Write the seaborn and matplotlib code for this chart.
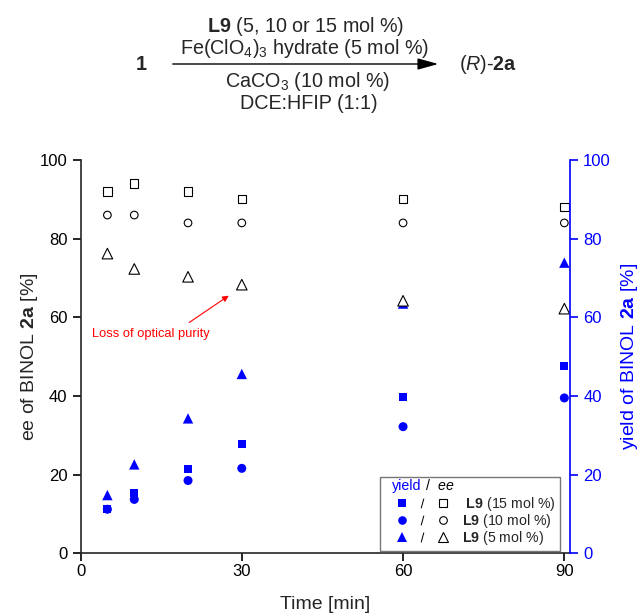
import matplotlib

matplotlib.use("Agg")

import matplotlib.pyplot as plt
import pandas as pd
import seaborn as sns
from matplotlib.legend_handler import HandlerTuple
from matplotlib.lines import Line2D
from matplotlib.patches import FancyArrowPatch

BLUE = "#0000ff"

# data
time_min = [5, 10, 20, 30, 60, 90]
loadings = ["15 mol %", "10 mol %", "5 mol %"]

ee_15 = [92, 94, 92, 90, 90, 88]
ee_10 = [86, 86, 84, 84, 84, 84]
ee_5 = [76.2, 72.3, 70.3, 68.3, 64.2, 62.2]

yield_15 = [11.2, 15.3, 21.4, 27.9, 39.7, 47.7]
yield_10 = [11.2, 13.7, 18.5, 21.6, 32.2, 39.5]
yield_5 = [14.8, 22.6, 34.3, 45.6, 63.5, 73.9]

x_ticks = [0, 30, 60, 90]
y_ticks = [0, 20, 40, 60, 80, 100]

marker_map = {"15 mol %": "s", "10 mol %": "o", "5 mol %": "^"}
open_sizes = {"15 mol %": 36, "10 mol %": 30, "5 mol %": 58}
filled_sizes = {"15 mol %": 34, "10 mol %": 42, "5 mol %": 56}


def long_frame(series: list[list[float]], value_name: str) -> pd.DataFrame:
    rows = []
    for load, values in zip(loadings, series):
        for t, v in zip(time_min, values):
            rows.append({"time": t, value_name: v, "loading": load})
    return pd.DataFrame(rows)


ee_df = long_frame([ee_15, ee_10, ee_5], "ee")
yield_df = long_frame([yield_15, yield_10, yield_5], "yield")

sns.set_theme(style="ticks")
plt.rcParams["font.family"] = ["Liberation Sans", "DejaVu Sans"]
plt.rcParams["mathtext.fontset"] = "custom"
plt.rcParams["mathtext.rm"] = "Liberation Sans"
plt.rcParams["mathtext.it"] = "Liberation Sans:italic"
plt.rcParams["mathtext.bf"] = "Liberation Sans:bold"

fig = plt.figure(figsize=(6.39, 6.13), dpi=100)
ax = fig.add_axes([0.126, 0.0974, 0.766, 0.6416])
ax2 = ax.twinx()

sns.scatterplot(
    data=yield_df, x="time", y="yield", style="loading", markers=marker_map,
    size="loading", sizes=filled_sizes, color=BLUE, edgecolor="none",
    legend=False, ax=ax, zorder=3,
)
sns.scatterplot(
    data=ee_df, x="time", y="ee", style="loading", markers=marker_map,
    size="loading", sizes=open_sizes, color="white", edgecolor="black", linewidth=0.8,
    legend=False, ax=ax, zorder=4,
)

ax.set_xlim(0, 91.05)
ax.set_ylim(0, 100)
ax2.set_ylim(0, 100)
ax.set_xticks(x_ticks)
ax.set_yticks(y_ticks)
ax2.set_yticks(y_ticks)

ax.set_xlabel("Time [min]", fontsize=14, labelpad=12)
ax.set_ylabel(r"ee of BINOL $\mathbf{2a}$ [%]", fontsize=14, labelpad=0)
ax2.set_ylabel(r"yield of BINOL $\mathbf{2a}$ [%]", fontsize=14, color=BLUE, labelpad=6)

for a in (ax, ax2):
    a.spines["top"].set_visible(False)
    for sp in a.spines.values():
        sp.set_linewidth(1.2)
ax.spines["right"].set_visible(False)
ax2.spines["left"].set_visible(False)
ax2.spines["bottom"].set_visible(False)
ax2.spines["right"].set_color(BLUE)

ax.tick_params(axis="x", direction="out", length=6, width=1.2, labelsize=12, colors="black", pad=2)
ax.tick_params(axis="y", direction="out", length=6, width=1.2, labelsize=12, colors="black", pad=3.5)
ax2.tick_params(axis="y", direction="out", length=6, width=1.2, labelsize=12, colors=BLUE, pad=3.5)

# annotation
ax.annotate(
    "", xy=(28, 65.9), xytext=(19.8, 58.3),
    arrowprops=dict(arrowstyle="-|>", color="red", lw=0.8, mutation_scale=9),
    zorder=5,
)
ax.text(2.1, 55.8, "Loss of optical purity", color="red", fontsize=9.3, va="center", ha="left")

# legend: filled yield marker / open ee marker
legend_fs = 10.2
leg_marker = {"15 mol %": (5.6, 5.6), "10 mol %": (6.2, 5.5), "5 mol %": (7.5, 7.8)}
handles = []
labels = []
for i, load in enumerate(loadings):
    m = marker_map[load]
    fsize, osize = leg_marker[load]
    filled = Line2D([], [], ls="none", marker=m, markersize=fsize, color=BLUE, markeredgewidth=0)
    slash = Line2D([], [], ls="none", marker="$/$", markersize=7, color="black",
                   markeredgewidth=0)
    hollow = Line2D([], [], ls="none", marker=m, markersize=osize, markerfacecolor="white",
                    markeredgecolor="black", markeredgewidth=0.8)
    handles.append((filled, slash, hollow))
    prefix = " " if i == 0 else ""
    labels.append(prefix + r"$\mathbf{L9}$ (" + load + ")")

leg = ax2.legend(
    handles, labels, handler_map={tuple: HandlerTuple(ndivide=None, pad=-0.95)},
    loc="lower right", bbox_to_anchor=(0.9796, 0.005), borderaxespad=0,
    fontsize=legend_fs, title=" ", title_fontsize=12,
    frameon=True, fancybox=False, edgecolor="#777777", framealpha=1,
    handlelength=5.3, handletextpad=0.15, labelspacing=-0.08, borderpad=0.3,
    alignment="left",
)
leg.get_frame().set_linewidth(1.0)
leg.set_zorder(10)
t1 = ax2.annotate("yield", xy=(0, 1), xycoords=leg, xytext=(8.4, -6.5), textcoords="offset points",
                  va="center", ha="left", color=BLUE, fontsize=legend_fs, zorder=11)
ax2.annotate(r" /  $\mathit{ee}$", xy=(1, 0), xycoords=t1, va="bottom", ha="left",
             color="black", fontsize=legend_fs, zorder=11)

# reaction scheme above the plot
scheme_size = 14.2
H = 613


def scheme_text(x_px, y_px, s, **kw):
    fig.text(x_px / 639, 1 - y_px / H, s, fontsize=scheme_size, ha="center", va="baseline", **kw)


scheme_text(141, 70, "1", fontweight="bold")
scheme_text(306, 32, r"$\mathbf{L9}$ (5, 10 or 15 mol %)")
scheme_text(305, 54, r"Fe(ClO$_4$)$_3$ hydrate (5 mol %)")
scheme_text(308, 87, r"CaCO$_3$ (10 mol %)")
scheme_text(309, 109, "DCE:HFIP (1:1)")
scheme_text(488, 70, r"($\mathit{R}$)-$\mathbf{2a}$")
fig.add_artist(
    FancyArrowPatch(
        (170 / 639, 1 - 64 / H), (441 / 639, 1 - 64 / H), transform=fig.transFigure,
        arrowstyle="-|>,head_length=0.9,head_width=0.25", mutation_scale=14, color="black", lw=1.0,
    )
)

fig.savefig("out.png", dpi=100)
